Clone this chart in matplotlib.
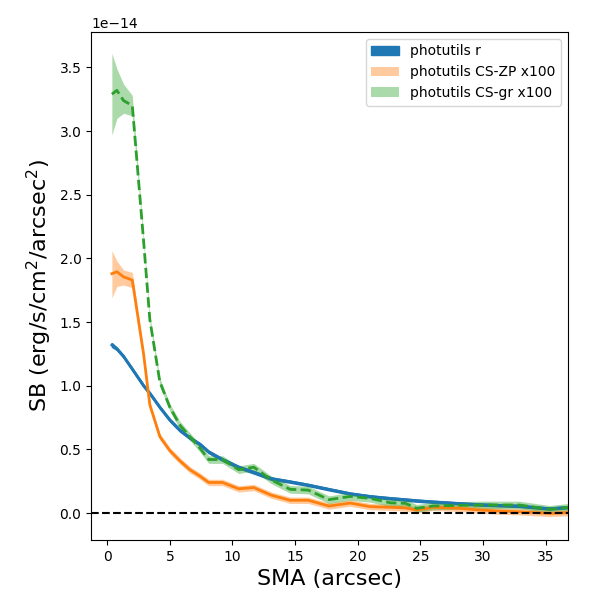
import numpy as np
import matplotlib
matplotlib.use('Agg')
import matplotlib.pyplot as plt

# semi-major axis (arcsec)
sma = [0.37, 0.77, 1.3, 2.0, 2.9, 3.4, 4.2, 5.0, 5.8, 6.6, 7.4, 8.1, 9.2, 10.5,
       11.7, 13.1, 14.6, 16.05, 17.7, 19.4, 21.0, 22.6, 23.8, 24.7, 26.0, 28.1,
       29.7, 31.3, 32.9, 35.3, 36.8]

# surface brightness, units of 1e-14 erg/s/cm2/arcsec2
sb_r = [1.32, 1.29, 1.23, 1.13, 1.0, 0.94, 0.83, 0.73, 0.65, 0.59, 0.54, 0.48,
        0.42, 0.36, 0.32, 0.27, 0.246, 0.22, 0.186, 0.152, 0.13, 0.115, 0.105,
        0.097, 0.088, 0.075, 0.066, 0.06, 0.055, 0.034, 0.045]
sb_zp = [1.88, 1.895, 1.855, 1.83, 1.25, 0.85, 0.6, 0.49, 0.41, 0.34, 0.29, 0.24,
         0.24, 0.19, 0.20, 0.14, 0.10, 0.10, 0.055, 0.078, 0.05, 0.045, 0.04,
         0.024, 0.045, 0.037, 0.024, 0.015, 0.01, -0.003, 0.003]
sb_gr = [3.29, 3.32, 3.24, 3.20, 2.14, 1.52, 1.03, 0.83, 0.69, 0.60, 0.51, 0.42,
         0.42, 0.34, 0.36, 0.26, 0.186, 0.18, 0.105, 0.13, 0.115, 0.08, 0.076,
         0.037, 0.055, 0.06, 0.063, 0.063, 0.063, 0.029, 0.045]

# band bounds
r_lo = [1.305, 1.28, 1.22, 1.12, 0.99, 0.93, 0.82, 0.72, 0.64, 0.58, 0.53, 0.47,
        0.41, 0.35, 0.31, 0.26, 0.238, 0.212, 0.178, 0.144, 0.122, 0.107, 0.097,
        0.089, 0.08, 0.067, 0.058, 0.052, 0.047, 0.026, 0.037]
r_hi = [1.335, 1.30, 1.24, 1.14, 1.01, 0.95, 0.84, 0.74, 0.66, 0.60, 0.55, 0.49,
        0.43, 0.37, 0.33, 0.28, 0.254, 0.228, 0.194, 0.16, 0.138, 0.123, 0.113,
        0.105, 0.096, 0.083, 0.074, 0.068, 0.063, 0.042, 0.053]
zp_lo = [1.69, 1.78, 1.79, 1.77, 1.22, 0.825, 0.575, 0.465, 0.385, 0.315, 0.265,
         0.215, 0.215, 0.165, 0.175, 0.115, 0.075, 0.075, 0.03, 0.053, 0.025,
         0.02, 0.015, -0.001, 0.02, 0.012, -0.001, -0.01, -0.015, -0.028, -0.022]
zp_hi = [2.06, 1.98, 1.91, 1.89, 1.28, 0.875, 0.625, 0.515, 0.435, 0.365, 0.315,
         0.265, 0.265, 0.215, 0.225, 0.165, 0.125, 0.125, 0.08, 0.103, 0.075,
         0.07, 0.065, 0.049, 0.07, 0.062, 0.049, 0.04, 0.035, 0.022, 0.028]
gr_lo = [2.97, 3.10, 3.14, 3.12, 2.11, 1.49, 1.0, 0.80, 0.66, 0.57, 0.48, 0.39,
         0.39, 0.31, 0.33, 0.23, 0.156, 0.15, 0.075, 0.10, 0.085, 0.05, 0.046,
         0.007, 0.025, 0.03, 0.033, 0.033, 0.033, -0.001, 0.015]
gr_hi = [3.61, 3.49, 3.37, 3.28, 2.17, 1.55, 1.06, 0.86, 0.72, 0.63, 0.54, 0.45,
         0.45, 0.37, 0.39, 0.29, 0.216, 0.21, 0.135, 0.16, 0.145, 0.11, 0.106,
         0.067, 0.085, 0.09, 0.093, 0.093, 0.093, 0.059, 0.075]

scale = 1e-14
x = np.array(sma)

fig = plt.figure(figsize=(6, 6), dpi=100)
ax = fig.add_axes([0.152, 0.1, 0.795, 0.847])

ax.fill_between(x, np.array(r_lo) * scale, np.array(r_hi) * scale,
                color='C0', label='photutils r')
ax.plot(x, np.array(sb_r) * scale, color='C0', lw=2)

ax.fill_between(x, np.array(zp_lo) * scale, np.array(zp_hi) * scale,
                color='C1', alpha=0.4, lw=0, label='photutils CS-ZP x100')
ax.plot(x, np.array(sb_zp) * scale, color='C1', lw=2)

ax.fill_between(x, np.array(gr_lo) * scale, np.array(gr_hi) * scale,
                color='C2', alpha=0.4, lw=0, label='photutils CS-gr x100')
ax.plot(x, np.array(sb_gr) * scale, color='C2', lw=2, ls='--')

ax.axhline(0, color='k', ls='--', lw=1.5)

ax.set_xlim(-1.28, 36.8)
ax.set_ylim(-0.212e-14, 3.78e-14)
ax.set_xlabel('SMA (arcsec)', fontsize=16)
ax.set_ylabel('SB (erg/s/cm$^2$/arcsec$^2$)', fontsize=16)
ax.legend(loc='upper right')

fig.savefig('out.png')
